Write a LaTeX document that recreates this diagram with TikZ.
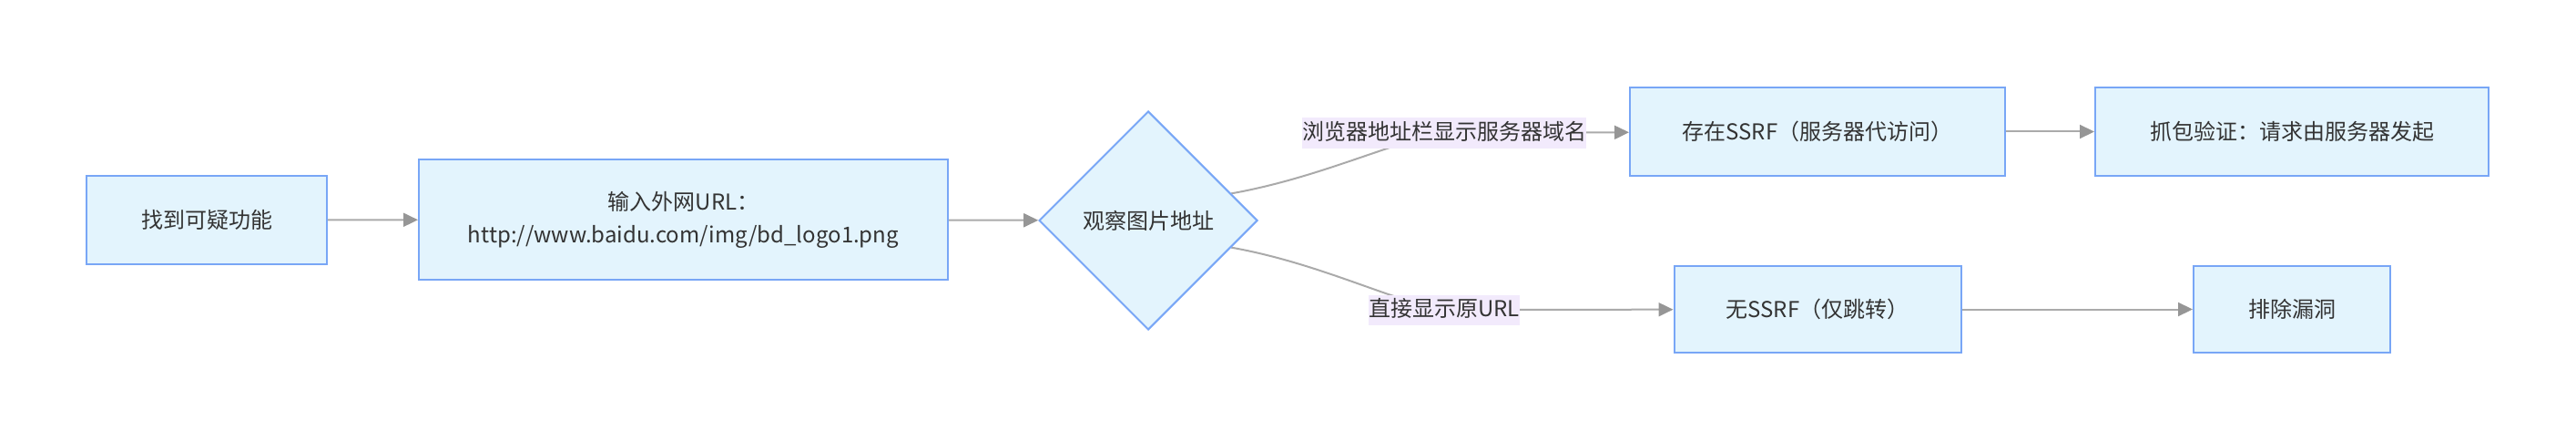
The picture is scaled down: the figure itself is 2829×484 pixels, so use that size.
\documentclass[tikz,border=0pt]{standalone}
\usepackage{fontspec}
\setmainfont{Noto Sans CJK SC}
\usetikzlibrary{arrows.meta,shapes.geometric,backgrounds}
\definecolor{nodefill}{RGB}{227,244,253}
\definecolor{nodeline}{RGB}{120,166,246}
\definecolor{labelbg}{RGB}{242,234,252}
\definecolor{inktext}{RGB}{51,51,51}
\definecolor{linkgray}{RGB}{170,170,170}
\definecolor{tipgray}{RGB}{150,150,150}
\tikzset{
    procbox/.style={rectangle,draw=nodeline,fill=nodefill,line width=2pt,text=inktext,
        font=\fontsize{24pt}{36pt}\selectfont,align=center,inner sep=0pt,minimum height=97pt},
    decision/.style={diamond,aspect=1,draw=nodeline,fill=nodefill,line width=2pt,text=inktext,
        font=\fontsize{24pt}{36pt}\selectfont,inner sep=0pt,minimum width=240pt,minimum height=240pt},
    flowline/.style={line width=2pt,draw=linkgray},
    flowarrow/.style={->,flowline},
    edgelabel/.style={fill=labelbg,text=inktext,font=\fontsize{24pt}{36pt}\selectfont,
        inner xsep=0pt,inner ysep=3pt,text height=21pt,text depth=6pt}
}

\begin{document}
\begin{tikzpicture}[x=1pt,y=-1pt,>={Triangle[length=16pt,width=15pt,color=tipgray]}]
    \useasboundingbox (0,0) rectangle (2829,484);
    % Main chain
    \node[procbox,minimum width=264pt] (find) at (227,241.5) {找到可疑功能};
    \node[procbox,minimum width=581pt,minimum height=132pt] (input) at (750.5,241)
        {输入外网URL：\\http://www.baidu.com/img/bd\_logo1.png};
    \node[decision] (observe) at (1261,242) {观察图片地址};
    % Upper branch
    \node[edgelabel] (lblhost) at (1586,146) {浏览器地址栏显示服务器域名};
    \node[procbox,minimum width=412pt] (exists) at (1996,144.5) {存在SSRF（服务器代访问）};
    \node[procbox,minimum width=432pt] (capture) at (2517,144.5) {抓包验证：请求由服务器发起};
    % Lower branch
    \node[edgelabel] (lblraw) at (1586,340) {直接显示原URL};
    \node[procbox,minimum width=315pt,minimum height=95pt] (noexists) at (1996,339.5) {无SSRF（仅跳转）};
    \node[procbox,minimum width=216pt,minimum height=95pt] (exclude) at (2517,339.5) {排除漏洞};
    % Connectors
    \begin{pgfonlayer}{background}
        \draw[flowarrow] (find) -- (input);
        \draw[flowarrow] (input) -- (observe);
        \draw[flowline] (observe.18) .. controls (1450,195) and (1530,155) .. (lblhost.center);
        \draw[flowarrow] (lblhost) -- (exists);
        \draw[flowarrow] (exists) -- (capture);
        \draw[flowline] (observe.-18) .. controls (1450,289) and (1530,331) .. (lblraw.center);
        \draw[flowarrow] (lblraw) -- (noexists);
        \draw[flowarrow] (noexists) -- (exclude);
    \end{pgfonlayer}
\end{tikzpicture}
\end{document}
